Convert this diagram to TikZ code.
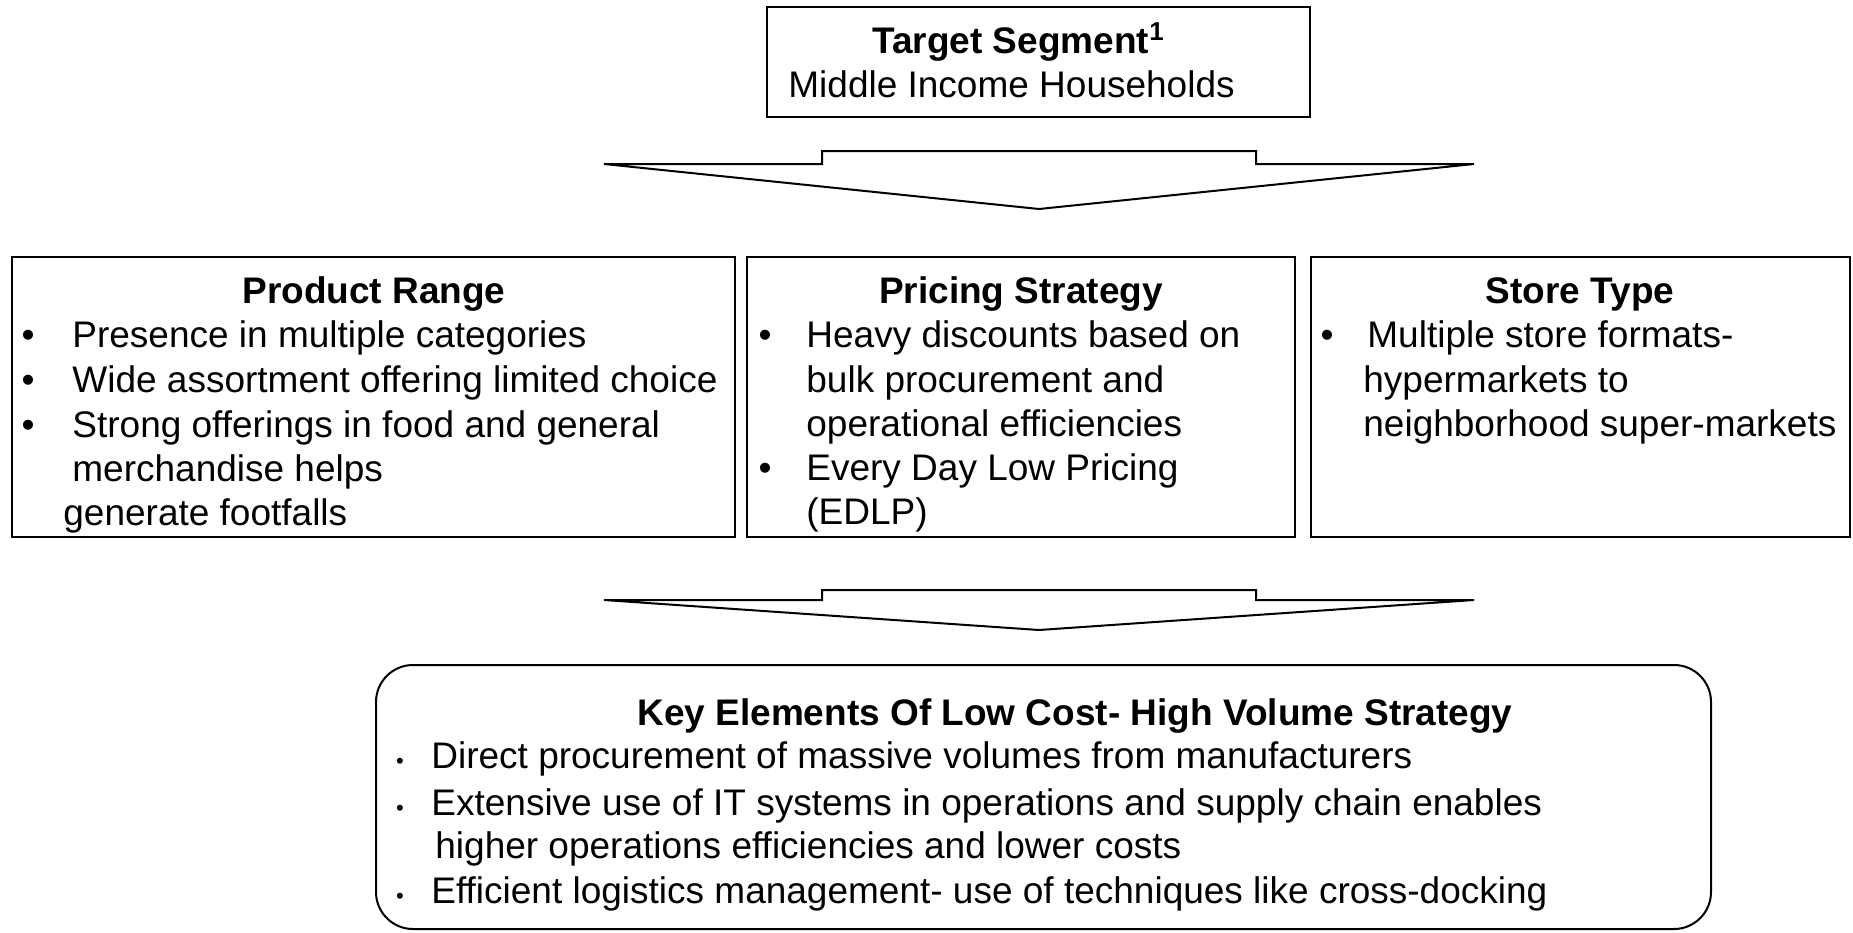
\documentclass[tikz,border=0pt]{standalone}
\usepackage{fontspec}
\setmainfont{Liberation Sans}
\usetikzlibrary{fit}
\begin{document}
\begin{tikzpicture}[x=0.5pt,y=-0.5pt,
  frame/.style={draw=black,line width=1pt,inner sep=0pt},
  txt/.style={anchor=base west,inner sep=0pt,font=\fontsize{18.5}{22}\selectfont},
  ttl/.style={anchor=base,inner sep=0pt,font=\fontsize{18.5}{22}\selectfont\bfseries},
  bul/.style={anchor=base,inner sep=0pt,font=\fontsize{18.5}{22}\selectfont},
  sbul/.style={anchor=base,inner sep=0pt,font=\fontsize{11}{13}\selectfont},
  blockarrow/.style={draw=black,line width=1pt,line join=miter,fill=white}]
\useasboundingbox (0,0) rectangle (1853,932);

% top box
\node[frame,fit={(767,7) (1310,117)}] (seg) {};
\node[txt,font=\fontsize{18.5}{22}\selectfont\bfseries] (segt) at (872,53) {Target Segment\textsuperscript{1}};
\node[txt] (segl) at (788,97) {Middle Income Households};

% first block arrow
\draw[blockarrow] (604,164) -- (822,164) -- (822,151) -- (1256,151) -- (1256,164)
  -- (1474,164) -- (1039,209) -- cycle;

% three strategy boxes
\node[frame,fit={(12,257) (735,537)}] (prod) {};
\node[frame,fit={(747,257) (1295,537)}] (price) {};
\node[frame,fit={(1311,257) (1850,537)}] (store) {};

% product range
\node[ttl] (prodt) at (374,303) {Product Range};
\node[bul] (pb1) at (28,347) {•};
\node[txt] (p1) at (72,347) {Presence in multiple categories};
\node[bul] (pb2) at (28,392) {•};
\node[txt] (p2) at (72,392) {Wide assortment offering limited choice};
\node[bul] (pb3) at (28,437) {•};
\node[txt] (p3) at (72,437) {Strong offerings in food and general};
\node[txt] (p3b) at (72,481) {merchandise helps};
\node[txt] (p3c) at (63,525) {generate footfalls};

% pricing strategy
\node[ttl] (pricet) at (1021,303) {Pricing Strategy};
\node[bul] (qb1) at (765,347) {•};
\node[txt] (q1) at (806,347) {Heavy discounts based on};
\node[txt] (q1b) at (806,392) {bulk procurement and};
\node[txt] (q1c) at (806,436) {operational efficiencies};
\node[bul] (qb2) at (765,480) {•};
\node[txt] (q2) at (806,480) {Every Day Low Pricing};
\node[txt] (q2b) at (806,524) {(EDLP)};

% store type
\node[ttl] (storet) at (1580,303) {Store Type};
\node[bul] (sb1) at (1327,347) {•};
\node[txt] (s1) at (1367,347) {Multiple store formats-};
\node[txt] (s1b) at (1363,392) {hypermarkets to};
\node[txt] (s1c) at (1363,436) {neighborhood super-markets};

% second block arrow
\draw[blockarrow] (604,600) -- (822,600) -- (822,590) -- (1256,590) -- (1256,600)
  -- (1474,600) -- (1039,630) -- cycle;

% key elements box
\node[frame,rounded corners=18.5pt,fit={(376,665) (1711,929)}] (key) {};
\node[txt,font=\fontsize{18.5}{22}\selectfont\bfseries] (keyt) at (637,725) {Key Elements Of Low Cost- High Volume Strategy};
\node[sbul] (kb1) at (400,768) {•};
\node[txt] (k1) at (431,768) {Direct procurement of massive volumes from manufacturers};
\node[sbul] (kb2) at (400,815) {•};
\node[txt] (k2) at (431,815) {Extensive use of IT systems in operations and supply chain enables};
\node[txt] (k2b) at (435,858) {higher operations efficiencies and lower costs};
\node[sbul] (kb3) at (400,903) {•};
\node[txt] (k3) at (431,903) {Efficient logistics management- use of techniques like cross-docking};
\end{tikzpicture}
\end{document}
